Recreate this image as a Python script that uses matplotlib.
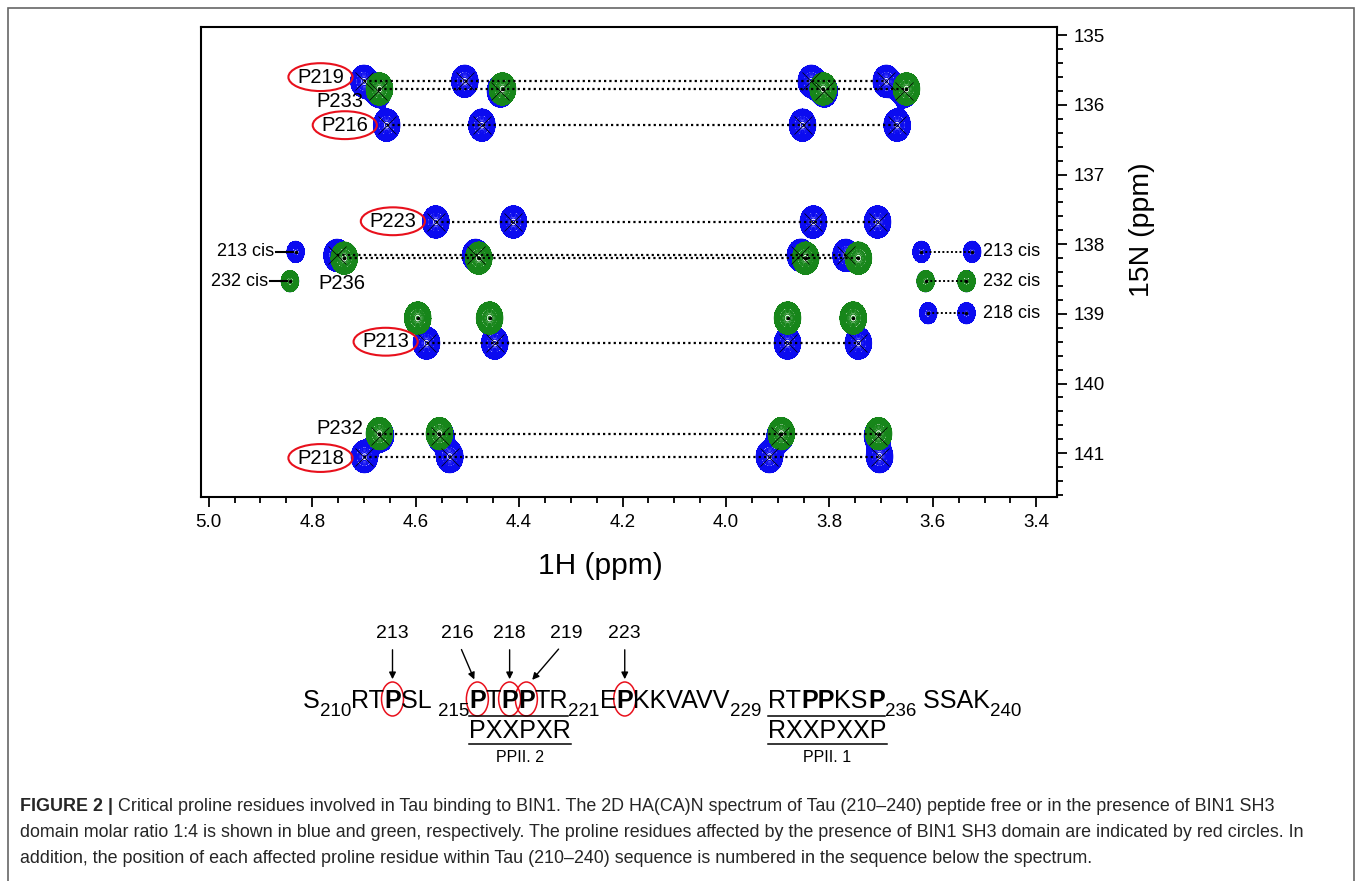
import numpy as np
import matplotlib
matplotlib.use('Agg')
import matplotlib.pyplot as plt
from matplotlib.patches import Ellipse, Rectangle
from matplotlib.transforms import IdentityTransform
from matplotlib.ticker import MultipleLocator, FormatStrFormatter

W, H = 1358, 881
plt.rcParams['font.family'] = 'Liberation Sans'

# ---- spectrum peaks (1H ppm, 15N ppm) ----
# free Tau peptide (blue)
blue_names = ['P219', 'P233', 'P216', 'P223', 'P236', 'P213', 'P232', 'P218']
blue_n = [135.66, 135.80, 136.29, 137.68, 138.16, 139.42, 140.75, 141.05]
blue_h = [[4.700, 4.505, 3.835, 3.690],
          [4.672, 4.436, 3.810, 3.655],
          [4.656, 4.472, 3.852, 3.669],
          [4.561, 4.411, 3.831, 3.707],
          [4.752, 4.484, 3.856, 3.768],
          [4.579, 4.447, 3.881, 3.744],
          [4.668, 4.552, 3.895, 3.707],
          [4.699, 4.534, 3.916, 3.703]]
blue_line = [True, False, True, True, True, True, False, True]

# with BIN1 SH3 (green)
green_names = ['P233', 'P236', 'P213', 'P232']
green_n = [135.77, 138.20, 139.06, 140.72]
green_h = [[4.670, 4.432, 3.812, 3.651],
           [4.738, 4.478, 3.846, 3.744],
           [4.596, 4.457, 3.881, 3.754],
           [4.670, 4.554, 3.893, 3.705]]
green_line = [True, True, False, True]

# cis conformers
cis_names = ['213 cis', '232 cis', '218 cis']
cis_n = [138.11, 138.53, 138.99]
cis_left_h = [4.832, 4.843, None]
cis_right_h = [[3.622, 3.524], [3.614, 3.535], [3.609, 3.535]]
cis_green = [False, True, False]

circled = ['P219', 'P216', 'P223', 'P213', 'P218']
label_pos = {'P219': (4.784, 135.60), 'P233': (4.747, 135.95), 'P216': (4.737, 136.29),
             'P223': (4.644, 137.67), 'P236': (4.743, 138.57), 'P213': (4.658, 139.40),
             'P232': (4.747, 140.65), 'P218': (4.784, 141.07)}

# ---- sequence ----
seq_parts = [('S', 'n'), ('210', 's'), ('RT', 'n'), ('P', 'b'), ('SL ', 'n'), ('215', 's'),
             ('P', 'b'), ('T', 'n'), ('P', 'b'), ('P', 'b'), ('TR', 'n'), ('221', 's'),
             ('E', 'n'), ('P', 'b'), ('KKVAVV', 'n'), ('229', 's'), (' ', 'n'), ('RT', 'n'),
             ('PP', 'b'), ('KS', 'n'), ('P', 'b'), ('236', 's'), (' SSAK', 'n'), ('240', 's')]
circ_idx = [3, 6, 8, 9, 13]
circ_nums = ['213', '216', '218', '219', '223']
circ_dx = [0, -20, 0, 40, 0]

caption_bold = 'FIGURE 2 | '
caption = ['Critical proline residues involved in Tau binding to BIN1. The 2D HA(CA)N spectrum of Tau (210\u2013240) peptide free or in the presence of BIN1 SH3',
           'domain molar ratio 1:4 is shown in blue and green, respectively. The proline residues affected by the presence of BIN1 SH3 domain are indicated by red circles. In',
           'addition, the position of each affected proline residue within Tau (210\u2013240) sequence is numbered in the sequence below the spectrum.']

fig = plt.figure(figsize=(W / 100, H / 100), dpi=100)
ax = fig.add_axes([201 / W, 1 - 497 / H, (1057 - 201) / W, (497 - 27) / H])
xlim = (5.015, 3.36)
ylim = (141.63, 134.88)

hh = np.linspace(3.36, 5.015, 1300)
nn = np.linspace(134.88, 141.63, 700)
HH, NN = np.meshgrid(hh, nn)
sh, sn = 0.0105, 0.095


def field(peaks):
    z = np.zeros_like(HH)
    for h0, n0, a, s in peaks:
        z += a * np.exp(-0.5 * ((HH - h0) / (sh * s)) ** 2 - 0.5 * ((NN - n0) / (sn * s)) ** 2)
    return z


bpk, gpk = [], []
for n0, hs in zip(blue_n, blue_h):
    bpk += [(h, n0, 1.0, 1.0) for h in hs]
for n0, hs in zip(green_n, green_h):
    gpk += [(h, n0, 1.0, 1.0) for h in hs]
for n0, lh, rh, g in zip(cis_n, cis_left_h, cis_right_h, cis_green):
    hs = ([lh] if lh else []) + rh
    bpk += [(h, n0, 0.5, 0.75) for h in hs]
    if g:
        gpk += [(h, n0, 0.5, 0.75) for h in hs]


def draw_field(z, col, zo):
    ax.contourf(HH, NN, z, levels=[0.05, 0.42, 100], colors=[col, 'white'], zorder=zo)
    ax.contour(HH, NN, z, levels=np.geomspace(0.05, 0.42, 6), colors=[col], linewidths=0.6, zorder=zo)
    ax.contour(HH, NN, z, levels=np.geomspace(0.45, 0.97, 6), colors=[col], linewidths=0.9, zorder=zo)


draw_field(field(bpk), '#0b0bf0', 2)
draw_field(field(gpk), '#17861a', 3)

# dotted connectors and peak markers
for n0, hs, ln in zip(blue_n, blue_h, blue_line):
    if ln:
        ax.plot([hs[0], hs[-1]], [n0, n0], color='k', ls=(0, (1, 1.4)), lw=1.6, zorder=5)
    ax.plot(hs, [n0] * len(hs), ls='none', marker='x', ms=13, mew=0.5, color='k', zorder=5)
for n0, hs, ln in zip(green_n, green_h, green_line):
    if ln:
        ax.plot([hs[0], hs[-1]], [n0, n0], color='k', ls=(0, (1, 1.4)), lw=1.6, zorder=5)
    ax.plot(hs, [n0] * len(hs), ls='none', marker='.', ms=3, color='k', zorder=5)
for name, n0, lh, rh in zip(cis_names, cis_n, cis_left_h, cis_right_h):
    ax.plot(rh, [n0, n0], color='k', ls=(0, (1, 1.2)), lw=1.4, zorder=5)
    ax.plot(rh, [n0, n0], ls='none', marker='.', ms=3, color='k', zorder=5)
    ax.text(3.504, n0, name, fontsize=13, va='center', ha='left', zorder=6)
    if lh:
        ax.plot([lh + 0.006, lh + 0.038], [n0, n0], color='k', lw=1.5, zorder=5)
        ax.text(lh + 0.042, n0, name, fontsize=13, va='center', ha='right', zorder=6)
        ax.plot([lh], [n0], ls='none', marker='.', ms=3, color='k', zorder=5)

for name, (lx, ly) in label_pos.items():
    ax.text(lx, ly, name, fontsize=14.5, ha='center', va='center', zorder=6)
    if name in circled:
        ax.add_patch(Ellipse((lx, ly), 0.124, 0.40, fill=False, ec='#e8101c', lw=1.5, zorder=6))

ax.set_xlim(*xlim)
ax.set_ylim(*ylim)
ax.yaxis.tick_right()
ax.xaxis.set_major_locator(MultipleLocator(0.2))
ax.xaxis.set_minor_locator(MultipleLocator(0.05))
ax.yaxis.set_major_locator(MultipleLocator(1))
ax.yaxis.set_minor_locator(MultipleLocator(0.2))
ax.xaxis.set_major_formatter(FormatStrFormatter('%.1f'))
ax.tick_params(which='both', direction='out', width=1.3, labelsize=13.5, pad=5)
ax.tick_params(which='major', length=7)
ax.tick_params(which='minor', length=4)
for s in ax.spines.values():
    s.set_linewidth(1.5)

fig.text(600, H - 566, '1H (ppm)', fontsize=21.5, ha='center', va='center', transform=IdentityTransform())
fig.text(1142, H - 230, '15N (ppm)', fontsize=20.5, ha='center', va='center', rotation=90,
         transform=IdentityTransform())

# outer frame
fig.add_artist(Rectangle((8, -5), 1346, H - 8 + 5, fill=False, ec='#666666', lw=1.2,
                         transform=IdentityTransform()))

# ---- sequence row ----
r = fig.canvas.get_renderer()
x = 303
base = H - 708
ext = []
for txt, kind in seq_parts:
    if kind == 's':
        t = fig.text(x, base - 8, txt, fontsize=13.5, va='baseline', transform=IdentityTransform())
    else:
        t = fig.text(x, base, txt, fontsize=18.1, va='baseline',
                     fontweight='bold' if kind == 'b' else 'normal', transform=IdentityTransform())
    w = t.get_window_extent(renderer=r).width
    ext.append((x, x + w))
    x += w

for i, num, dx in zip(circ_idx, circ_nums, circ_dx):
    cx = (ext[i][0] + ext[i][1]) / 2
    fig.add_artist(Ellipse((cx, H - 699), 22, 34, fill=False, ec='#e8101c', lw=1.1,
                           transform=IdentityTransform()))
    fig.text(cx + dx, H - 634, num, fontsize=14, ha='center', va='center', transform=IdentityTransform())
    ax.annotate('', xy=(cx + dx * 0.1, H - 682), xytext=(cx + dx * 0.85, H - 647),
                xycoords='figure pixels', textcoords='figure pixels',
                arrowprops=dict(arrowstyle='-|>', color='k', lw=1.0, mutation_scale=10))

motifs = [(6, 10, 'PXXPXR', 'PPII. 2'), (17, 20, 'RXXPXXP', 'PPII. 1')]
for i0, i1, mtxt, ptxt in motifs:
    x0, x1 = ext[i0][0], ext[i1][1]
    fig.add_artist(plt.Line2D([x0, x1], [H - 716, H - 716], color='k', lw=1.1,
                              transform=IdentityTransform()))
    t = fig.text(x0, H - 738, mtxt, fontsize=18.1, va='baseline', transform=IdentityTransform())
    tw = t.get_window_extent(renderer=r).width
    fig.add_artist(plt.Line2D([x0, x0 + tw], [H - 744, H - 744], color='k', lw=1.1,
                              transform=IdentityTransform()))
    fig.text(x0 + tw / 2, H - 758, ptxt, fontsize=11.5, ha='center', va='center',
             transform=IdentityTransform())

# ---- caption ----
probe = fig.text(0, 0, caption[1], fontsize=12, transform=IdentityTransform())
fs = 12 * 1280 / probe.get_window_extent(renderer=r).width
probe.remove()
cap_col = '#262626'
tb = fig.text(20, H - 811, caption_bold, fontsize=fs, fontweight='bold', color=cap_col,
              va='baseline', transform=IdentityTransform())
bw = tb.get_window_extent(renderer=r).width
for k, line in enumerate(caption):
    x0 = 20 + bw if k == 0 else 20
    fig.text(x0, H - 811 - 26 * k, line, fontsize=fs, color=cap_col, va='baseline',
             transform=IdentityTransform())

fig.savefig('out.png', dpi=100)
